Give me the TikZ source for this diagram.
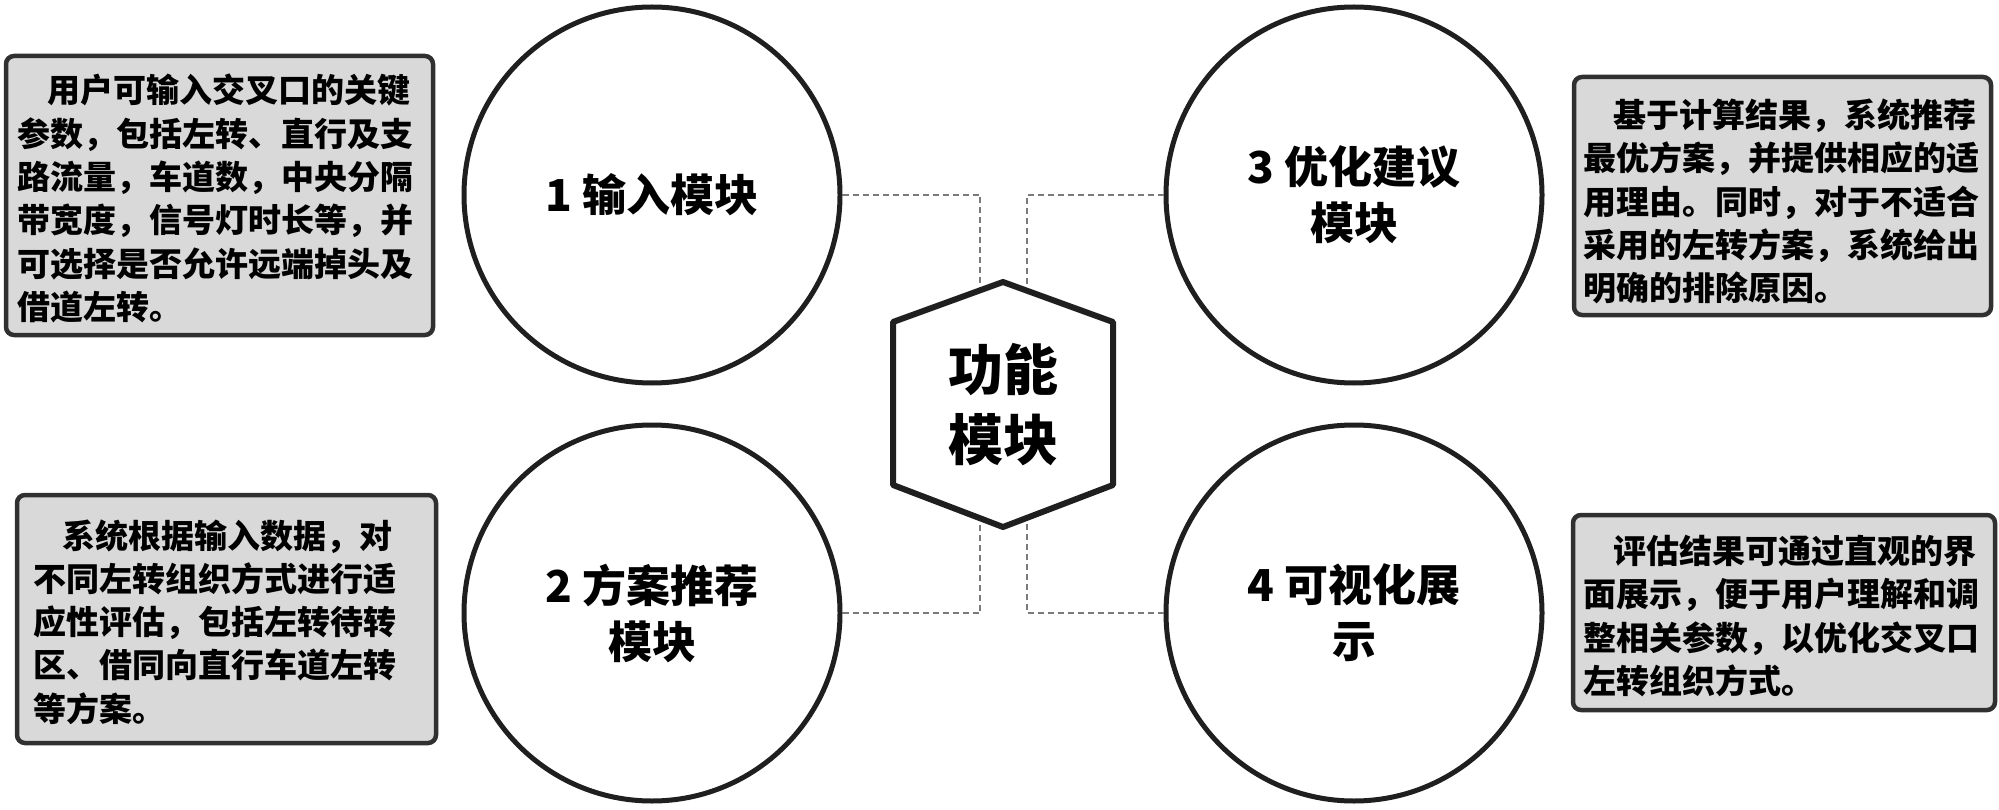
\documentclass[tikz,border=0pt]{standalone}
\usepackage{fontspec}
\setmainfont{Noto Sans CJK SC}[BoldFont={* Black}]
\definecolor{boxfill}{HTML}{D9D9D9}
\definecolor{boxline}{HTML}{303030}
\definecolor{dashgray}{HTML}{7A7A7A}
\begin{document}
\begin{tikzpicture}[x=1pt,y=-1pt,
  modc/.style={circle, draw=black!88, line width=5pt, minimum size=376pt, inner sep=0pt, align=center,
    font=\fontsize{44}{56}\selectfont\bfseries},
  descbox/.style={draw=boxline, line width=4.5pt, fill=boxfill, rounded corners=8pt, inner sep=0pt},
  desctext/.style={align=left, inner sep=0pt, anchor=west, font=\fontsize{33}{43.3}\selectfont\bfseries},
  conn/.style={draw=dashgray, line width=2pt, dash pattern=on 6pt off 4pt},
  hexline/.style={draw=black!88, line width=6pt, line join=round, fill=white},
]
\useasboundingbox (0,0) rectangle (1999,810);

% description boxes
\node[descbox, minimum width=427pt, minimum height=279pt] (b1) at (219.5,195.5) {};
\node[descbox, minimum width=417pt, minimum height=238pt] (b2) at (1782.5,196) {};
\node[descbox, minimum width=419pt, minimum height=248pt] (b3) at (226.5,619) {};
\node[descbox, minimum width=422pt, minimum height=195pt] (b4) at (1784,612.5) {};

\node[desctext] (t1) at (17,198.5) {\hspace*{30pt}用户可输入交叉口的关键\\参数，包括左转、直行及支\\路流量，车道数，中央分隔\\带宽度，信号灯时长等，并\\可选择是否允许远端掉头及\\借道左转。};
\node[desctext] (t2) at (1583,201.5) {\hspace*{30pt}基于计算结果，系统推荐\\最优方案，并提供相应的适\\用理由。同时，对于不适合\\采用的左转方案，系统给出\\明确的排除原因。};
\node[desctext] (t3) at (33,622) {\hspace*{29pt}系统根据输入数据，对\\不同左转组织方式进行适\\应性评估，包括左转待转\\区、借同向直行车道左转\\等方案。};
\node[desctext] (t4) at (1583,616) {\hspace*{30pt}评估结果可通过直观的界\\面展示，便于用户理解和调\\整相关参数，以优化交叉口\\左转组织方式。};

% module circles
\node[modc] (c1) at (652,195) {1 输入模块};
\node[modc] (c2) at (652,613) {2 方案推荐\\模块};
\node[modc] (c3) at (1354,195) {3 优化建议\\模块};
\node[modc] (c4) at (1354,613) {4 可视化展\\示};

% hexagon corners and connector ends
\coordinate (hT) at (1003,282);
\coordinate (hUR) at (1113,322);
\coordinate (hLR) at (1113,485);
\coordinate (hB) at (1003,527);
\coordinate (hLL) at (893,485);
\coordinate (hUL) at (893,322);
\coordinate (pA) at (980,292);
\coordinate (pB) at (1027,292);
\coordinate (pC) at (980,517);
\coordinate (pD) at (1027,517);

% connectors
\draw[conn] (c1.east) -| (pA);
\draw[conn] (c3.west) -| (pB);
\draw[conn] (c2.east) -| (pC);
\draw[conn] (c4.west) -| (pD);

% central hexagon
\draw[hexline] (hT) -- (hUR) -- (hLR) -- (hB) -- (hLL) -- (hUL) -- cycle;
\node[align=center, inner sep=0pt, font=\fontsize{55}{70}\selectfont\bfseries] (hex) at (1003,405) {功能\\模块};
\end{tikzpicture}
\end{document}
